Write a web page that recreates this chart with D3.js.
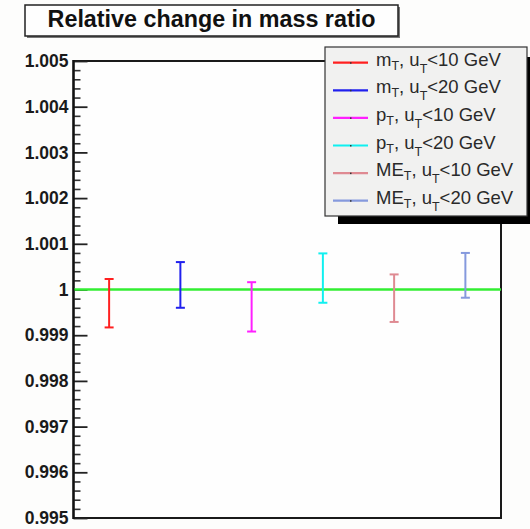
<!DOCTYPE html>
<html>
<head>
<meta charset="utf-8">
<script src="https://cdn.jsdelivr.net/npm/d3@7"></script>
<style>
  html, body { margin: 0; padding: 0; background: #fdfdfc; }
  svg { display: block; font-family: "Liberation Sans", Arial, Helvetica, sans-serif; }
</style>
</head>
<body>
<svg id="chart" width="530" height="529"></svg>
<script>
// Measurement: relative change in mass ratio for each fit variable and u_T cut
const variables = ["m", "m", "p", "p", "ME", "ME"];
const cuts = ["<10 GeV", "<20 GeV", "<10 GeV", "<20 GeV", "<10 GeV", "<20 GeV"];
const ratios = [0.99970, 1.00010, 0.99962, 1.00025, 0.99981, 1.00031];
const errors = [0.00053, 0.00050, 0.00054, 0.00054, 0.00052, 0.00049];
const colors = ["#ff2020", "#2020ee", "#ff20ff", "#10f0f0", "#df8a92", "#8599dd"];
const yTicks = [0.995, 0.996, 0.997, 0.998, 0.999, 1, 1.001, 1.002, 1.003, 1.004, 1.005];
const yTickLabels = ["0.995", "0.996", "0.997", "0.998", "0.999", "1", "1.001", "1.002", "1.003", "1.004", "1.005"];
const titleText = "Relative change in mass ratio";

const svg = d3.select("#chart");
const frame = { left: 73.5, right: 501, top: 61, bottom: 518 };

const x = d3.scaleLinear().domain([0, ratios.length]).range([frame.left, frame.right]);
const y = d3.scaleLinear().domain([0.995, 1.005]).range([frame.bottom, frame.top]);

// Plot frame
svg.append("rect")
  .attr("x", frame.left).attr("y", frame.top)
  .attr("width", frame.right - frame.left).attr("height", frame.bottom - frame.top)
  .attr("fill", "#fefefe").attr("stroke", "#1a1a1a").attr("stroke-width", 2);

// Y axis with major ticks every 0.001 and ten minor divisions, drawn inside the frame
const minorTicks = d3.range(0, 51).map(i => 0.995 + i * 0.0002).filter((v, i) => i % 5 !== 0);
const axisG = svg.append("g").attr("transform", `translate(${frame.left},0)`);
axisG.call(d3.axisRight(y).tickValues(minorTicks).tickSize(7).tickFormat(""))
  .call(g => g.select(".domain").remove())
  .call(g => g.selectAll("line").attr("stroke", "#333").attr("stroke-width", 1.6));
const majorG = svg.append("g").attr("transform", `translate(${frame.left},0)`);
majorG.call(d3.axisRight(y).tickValues(yTicks).tickSize(14).tickFormat(""))
  .call(g => g.select(".domain").remove())
  .call(g => g.selectAll("line").attr("stroke", "#222").attr("stroke-width", 1.8));
// Tick labels to the left of the axis
const labelG = svg.append("g").attr("transform", `translate(${frame.left},0)`);
labelG.call(d3.axisLeft(y).tickValues(yTicks).tickSize(0).tickPadding(5)
    .tickFormat((d, i) => yTickLabels[i]))
  .call(g => g.select(".domain").remove())
  .call(g => g.selectAll("text")
    .attr("font-family", "Liberation Sans, Arial, sans-serif")
    .attr("font-size", 17.5).attr("font-weight", "bold").attr("fill", "#1a1a1a"));
svg.append("line")
  .attr("x1", frame.left).attr("x2", frame.left)
  .attr("y1", frame.top - 1).attr("y2", frame.bottom + 1)
  .attr("stroke", "#111").attr("stroke-width", 2.2);

// Reference line at ratio = 1
svg.append("line")
  .attr("x1", frame.left + 1).attr("x2", frame.right)
  .attr("y1", y(1)).attr("y2", y(1))
  .attr("stroke", "#33ee33").attr("stroke-width", 2.5);

// Error bars
const bars = svg.append("g").selectAll("g").data(ratios).join("g")
  .attr("stroke", (d, i) => colors[i]).attr("stroke-width", 2);
bars.append("line")
  .attr("x1", (d, i) => x(i + 0.5)).attr("x2", (d, i) => x(i + 0.5))
  .attr("y1", (d, i) => y(d + errors[i])).attr("y2", (d, i) => y(d - errors[i]));
bars.append("line")
  .attr("x1", (d, i) => x(i + 0.5) - 4.5).attr("x2", (d, i) => x(i + 0.5) + 4.5)
  .attr("y1", (d, i) => y(d + errors[i])).attr("y2", (d, i) => y(d + errors[i]));
bars.append("line")
  .attr("x1", (d, i) => x(i + 0.5) - 4.5).attr("x2", (d, i) => x(i + 0.5) + 4.5)
  .attr("y1", (d, i) => y(d - errors[i])).attr("y2", (d, i) => y(d - errors[i]));

// Title box
const title = svg.append("g");
title.append("rect").attr("x", 27).attr("y", 7).attr("width", 373).attr("height", 31).attr("fill", "#777");
title.append("rect").attr("x", 25).attr("y", 5).attr("width", 373).attr("height", 31)
  .attr("fill", "#fefefe").attr("stroke", "#222").attr("stroke-width", 1.5);
const tt = title.append("text")
  .attr("x", 211.5).attr("y", 27).attr("text-anchor", "middle")
  .attr("font-size", 21).attr("font-weight", "bold").attr("fill", "#111")
  .text(titleText);
const tw = tt.node().getComputedTextLength();
tt.attr("font-size", 21 * 328 / tw);

// Legend with drop shadow
const leg = { x: 325, y: 47, w: 202, h: 169 };
svg.append("rect").attr("x", 338).attr("y", leg.y + 10).attr("width", 200).attr("height", leg.h - 2).attr("fill", "#000");
svg.append("rect").attr("x", leg.x).attr("y", leg.y).attr("width", leg.w).attr("height", leg.h)
  .attr("fill", "#f1f1f0").attr("stroke", "#333").attr("stroke-width", 1.2);
const rowY = i => 62.7 + i * 27.6;
const rows = svg.append("g").selectAll("g").data(variables).join("g")
  .attr("transform", (d, i) => `translate(0,${rowY(i)})`);
rows.append("line").attr("x1", 333).attr("x2", 368).attr("y1", 0).attr("y2", 0)
  .attr("stroke", (d, i) => colors[i]).attr("stroke-width", 2.2);
rows.append("rect").attr("x", 350).attr("y", -0.5).attr("width", 1.5).attr("height", 1.5).attr("fill", "#333");
const lt = rows.append("text").attr("x", 376).attr("y", 3).attr("font-size", 18.5).attr("fill", "#2a2a2a");
lt.append("tspan").text(d => d);
lt.append("tspan").attr("font-size", 12.5).attr("dy", 4).text("T");
lt.append("tspan").attr("dy", -4).text(", u");
lt.append("tspan").attr("font-size", 12.5).attr("dy", 7).text("T");
lt.append("tspan").attr("dy", -7).text((d, i) => cuts[i]);
</script>
</body>
</html>
